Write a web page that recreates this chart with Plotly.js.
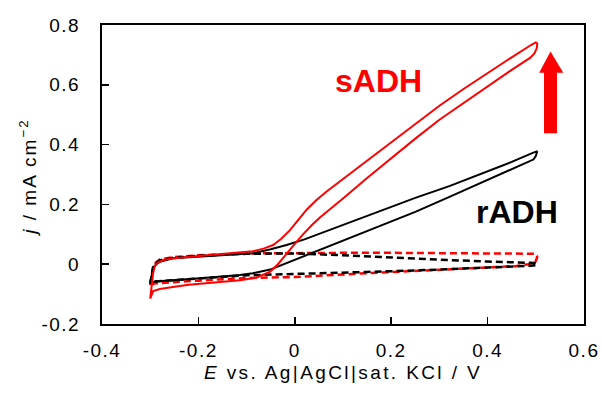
<!DOCTYPE html>
<html>
<head>
<meta charset="utf-8">
<script src="https://cdn.plot.ly/plotly-3.0.1.min.js"></script>
<style>
html,body{margin:0;padding:0;background:#fff;}
#chart{width:602px;height:399px;}
.xtick text,.ytick text{letter-spacing:1.5px;}
.g-xtitle text{letter-spacing:2.4px;}
.annotation-text.ytitle-ann{letter-spacing:2px;}
</style>
</head>
<body>
<div id="chart"></div>
<script>
// sADH (solid red) cyclic voltammogram
const sadhX = [-0.3,-0.298,-0.294,-0.29,-0.283,-0.273,-0.25,-0.217,-0.155,-0.12,-0.087,-0.065,-0.045,-0.028,-0.01,0.008,0.025,0.045,0.066,0.1,0.15,0.2,0.25,0.3,0.35,0.4,0.45,0.49,0.5,0.503,0.502,0.497,0.488,0.45,0.4,0.35,0.3,0.25,0.2,0.15,0.1,0.073,0.052,0.035,0.017,0,-0.017,-0.035,-0.051,-0.08,-0.114,-0.15,-0.182,-0.22,-0.253,-0.28,-0.294,-0.3];
const sadhY = [-0.115,-0.08,-0.03,-0.005,0.006,0.014,0.02,0.025,0.033,0.037,0.043,0.052,0.064,0.085,0.114,0.15,0.183,0.215,0.243,0.285,0.347,0.408,0.47,0.53,0.586,0.64,0.692,0.733,0.742,0.738,0.722,0.705,0.69,0.65,0.595,0.54,0.483,0.42,0.355,0.288,0.22,0.185,0.156,0.13,0.1,0.068,0.035,0.0,-0.025,-0.045,-0.054,-0.059,-0.064,-0.069,-0.076,-0.083,-0.09,-0.115];
// rADH (solid black)
const radhX = [-0.3,-0.297,-0.294,-0.288,-0.28,-0.253,-0.183,-0.114,-0.086,-0.05,-0.017,0.02,0.052,0.094,0.128,0.2,0.25,0.322,0.4,0.45,0.49,0.5,0.503,0.5,0.495,0.47,0.45,0.4,0.322,0.25,0.211,0.15,0.094,0.052,0.017,-0.017,-0.051,-0.087,-0.114,-0.183,-0.253,-0.29,-0.3];
const radhY = [-0.062,-0.04,-0.014,0.0,0.008,0.02,0.027,0.033,0.037,0.05,0.064,0.083,0.102,0.127,0.148,0.19,0.222,0.262,0.31,0.342,0.37,0.378,0.378,0.362,0.35,0.332,0.318,0.283,0.226,0.175,0.15,0.11,0.075,0.048,0.024,0.003,-0.018,-0.03,-0.036,-0.045,-0.053,-0.058,-0.062];
// sADH background (dashed red)
const sadhBgX = [-0.3,-0.297,-0.294,-0.288,-0.28,-0.25,-0.2,-0.1,0,0.1,0.2,0.3,0.4,0.49,0.5,0.503,0.5,0.485,0.46,0.4,0.3,0.15,0,-0.1,-0.2,-0.29,-0.3];
const sadhBgY = [-0.07,-0.04,-0.01,0.006,0.016,0.024,0.03,0.036,0.038,0.038,0.038,0.037,0.037,0.036,0.035,0.025,0.01,0.0,-0.006,-0.011,-0.018,-0.03,-0.043,-0.046,-0.055,-0.064,-0.07];
// rADH background (dashed black)
const radhBgX = [-0.3,-0.297,-0.294,-0.288,-0.28,-0.25,-0.2,-0.1,0,0.1,0.2,0.3,0.4,0.49,0.5,0.503,0.5,0.49,0.4,0.3,0.15,0,-0.1,-0.2,-0.29,-0.3];
const radhBgY = [-0.065,-0.035,-0.01,0.004,0.013,0.022,0.028,0.035,0.036,0.03,0.022,0.015,0.009,0.004,0.004,0.0,-0.003,-0.005,-0.012,-0.018,-0.026,-0.032,-0.037,-0.048,-0.058,-0.065];

const xTicks = [-0.4,-0.2,0,0.2,0.4,0.6];
const xTickLabels = ['-0.4','-0.2','0','0.2','0.4','0.6'];
const yTicks = [-0.2,0,0.2,0.4,0.6,0.8];
const yTickLabels = ['-0.2','0','0.2','0.4','0.6','0.8'];

const font = 'Liberation Sans, Arial, sans-serif';

const traces = [
  {x: sadhBgX, y: sadhBgY, mode:'lines', line:{color:'#ff0000', width:2.5, dash:'7px,4px'}, hoverinfo:'skip'},
  {x: radhBgX, y: radhBgY, mode:'lines', line:{color:'#000000', width:2.5, dash:'7px,4px'}, hoverinfo:'skip'},
  {x: radhX, y: radhY, mode:'lines', line:{color:'#000000', width:2}, hoverinfo:'skip'},
  {x: sadhX, y: sadhY, mode:'lines', line:{color:'#ff0000', width:2}, hoverinfo:'skip'}
];

const layout = {
  width:602, height:399,
  margin:{l:102, r:18, t:25, b:75},
  paper_bgcolor:'#ffffff', plot_bgcolor:'#ffffff',
  showlegend:false,
  font:{family:font, color:'#000', size:19},
  xaxis:{
    range:[-0.4,0.6], tickvals:xTicks, ticktext:xTickLabels,
    ticks:'inside', ticklen:7, tickwidth:1.5, tickcolor:'#000',
    showline:true, linewidth:2, linecolor:'#000', mirror:true,
    showgrid:false, zeroline:false, ticklabelstandoff:8,
    tickfont:{family:font, size:19, color:'#000'},
    title:{text:'<i>E</i> vs. Ag|AgCl|sat. KCl / V', font:{family:font, size:19, color:'#000'}, standoff:6}
  },
  yaxis:{
    range:[-0.2,0.8], tickvals:yTicks, ticktext:yTickLabels,
    ticks:'inside', ticklen:7, tickwidth:1.5, tickcolor:'#000',
    showline:true, linewidth:2, linecolor:'#000', mirror:true,
    showgrid:false, zeroline:false, ticklabelstandoff:16,
    tickfont:{family:font, size:19, color:'#000'}
  },
  annotations:[
    {x:-0.153, y:0.49, xref:'paper', yref:'paper', xanchor:'center', yanchor:'middle', textangle:-90,
     text:'<i>j</i> / mA cm<sup>−2</sup>', showarrow:false, font:{family:font, size:19, color:'#000'}},
    {x:0.173, y:0.613, xref:'x', yref:'y', text:'<b>sADH</b>', showarrow:false, font:{family:font, size:32, color:'#ff0000'}},
    {x:0.462, y:0.175, xref:'x', yref:'y', text:'<b>rADH</b>', showarrow:false, font:{family:font, size:32, color:'#000000'}}
  ],
  shapes:[
    {type:'path', xref:'x', yref:'y', path:'M 0.517 0.438 L 0.544 0.438 L 0.544 0.640 L 0.557 0.640 L 0.5305 0.711 L 0.507 0.640 L 0.517 0.640 Z', fillcolor:'#ff0000', line:{width:0}}
  ]
};

Plotly.newPlot('chart', traces, layout, {staticPlot:true, displayModeBar:false}).then(function(){
  var t = document.querySelectorAll('.annotation-text');
  if (t.length) t[0].style.letterSpacing = '2px';
});
</script>
</body>
</html>
